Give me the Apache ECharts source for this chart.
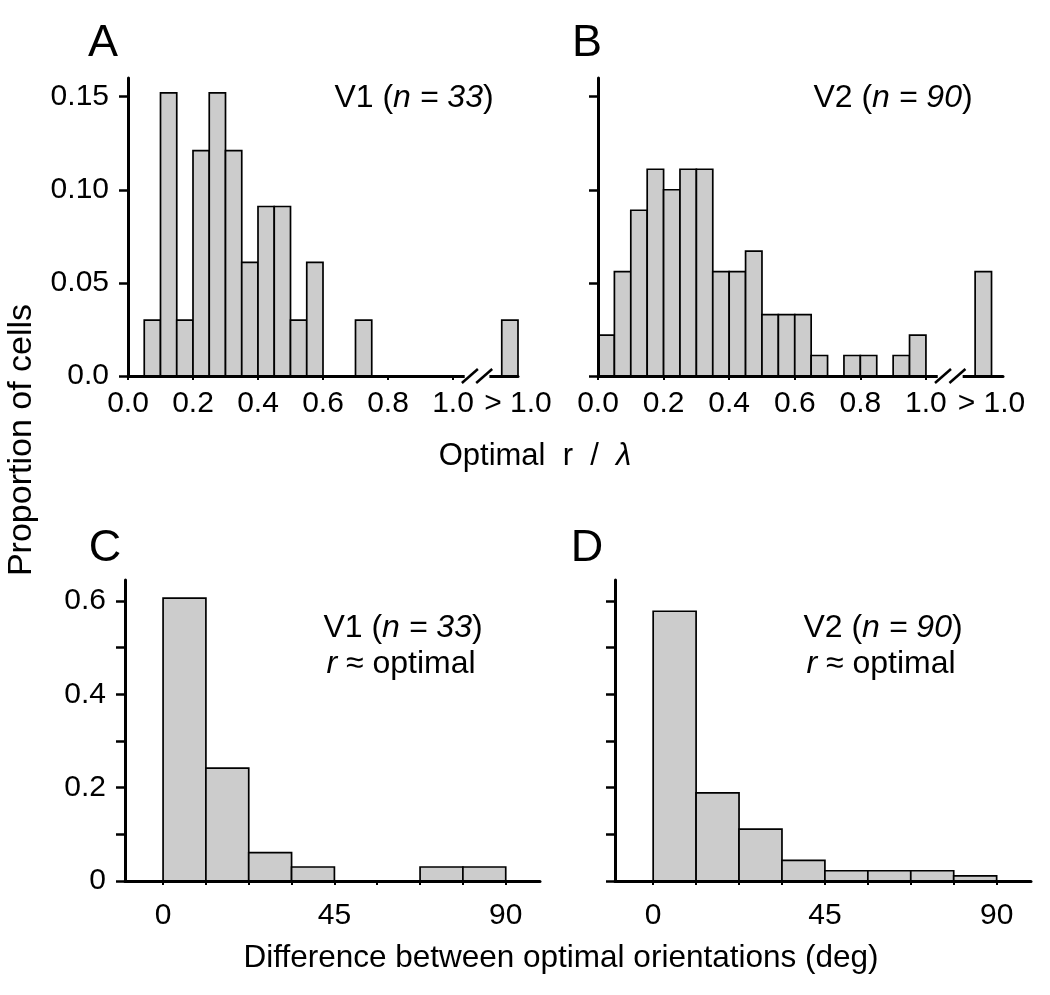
<!DOCTYPE html>
<html>
<head>
<meta charset="utf-8">
<script src="https://cdn.jsdelivr.net/npm/echarts@6/dist/echarts.min.js"></script>
<style>
html,body{margin:0;padding:0;background:#fff;}
#chart{width:1050px;height:995px;}
</style>
</head>
<body>
<div id="chart"></div>
<script>
// ---------- DATA ----------
// Panels A & B: bins of optimal r / lambda (bin start, width 0.05)
const ratioBinStarts = [0.00,0.05,0.10,0.15,0.20,0.25,0.30,0.35,0.40,0.45,0.50,0.55,0.60,0.65,0.70,0.75,0.80,0.85,0.90,0.95];
const ratioBinWidth = 0.05;
const v1RatioProps = [0,0.030,0.152,0.030,0.121,0.152,0.121,0.061,0.091,0.091,0.030,0.061,0,0,0.030,0,0,0,0,0];
const v2RatioProps = [0.022,0.056,0.089,0.111,0.100,0.111,0.111,0.056,0.056,0.067,0.033,0.033,0.033,0.011,0,0.011,0.011,0,0.011,0.022];
const overBinRange = [1.15, 1.20];      // where the "> 1.0" bar sits on the axis
const v1OverProp = 0.030;
const v2OverProp = 0.056;
const ratioTickValues = [0,0.2,0.4,0.6,0.8,1.0];
const ratioLabelValues = [0,0.2,0.4,0.6,0.8,1.0,1.2];
const propTicksAB = [0,0.05,0.10,0.15];

// Panels C & D: difference between optimal orientations (deg), bins of 11.25
const oriBinStarts = [0,11.25,22.5,33.75,45,56.25,67.5,78.75];
const oriBinWidth = 11.25;
const v1OriProps = [0.606,0.242,0.061,0.030,0,0,0.030,0.030];
const v2OriProps = [0.578,0.189,0.111,0.044,0.022,0.022,0.022,0.011];
const oriTickValues = [0,11.25,22.5,33.75,45,56.25,67.5,78.75,90];
const oriLabelValues = [0,45,90];
const propTicksCD = [0,0.1,0.2,0.3,0.4,0.5,0.6];
const propLabelsCD = [0,0.2,0.4,0.6];

// axis break decoration (in data units)
const breakGap = [1.036, 1.112];
const breakSlashes = [1.052, 1.096];

// ---------- BUILD ----------
const FONT = '"Liberation Sans", Arial, Helvetica, sans-serif';
const FS = 30;      // tick labels
const FA = 32;      // annotations

function histData(starts, width, props) {
  return starts.map((s, i) => [s, s + width, props[i]]);
}
const v1RatioData = histData(ratioBinStarts, ratioBinWidth, v1RatioProps).concat([[overBinRange[0], overBinRange[1], v1OverProp]]);
const v2RatioData = histData(ratioBinStarts, ratioBinWidth, v2RatioProps).concat([[overBinRange[0], overBinRange[1], v2OverProp]]);
const v1OriData = histData(oriBinStarts, oriBinWidth, v1OriProps);
const v2OriData = histData(oriBinStarts, oriBinWidth, v2OriProps);

function histSeries(idx, data) {
  return {
    type: 'custom', xAxisIndex: idx, yAxisIndex: idx, z: 2, clip: false,
    data: data,
    renderItem: function (params, api) {
      const x0 = api.value(0), x1 = api.value(1), v = api.value(2);
      if (!v) return null;
      const pTop = api.coord([x0, v]);
      const pBot = api.coord([x1, 0]);
      return {
        type: 'rect',
        shape: { x: pTop[0], y: pTop[1], width: pBot[0] - pTop[0], height: pBot[1] - pTop[1] },
        style: { fill: '#cccccc', stroke: '#000', lineWidth: 1.7 }
      };
    }
  };
}
function breakSeries(idx) {
  return {
    type: 'custom', xAxisIndex: idx, yAxisIndex: idx, z: 30, clip: false, silent: true,
    data: [[breakGap[0], breakGap[1], breakSlashes[0], breakSlashes[1]]],
    renderItem: function (params, api) {
      const y0 = api.coord([0, 0])[1];
      const g0 = api.coord([api.value(0), 0])[0];
      const g1 = api.coord([api.value(1), 0])[0];
      const s0 = api.coord([api.value(2), 0])[0];
      const s1 = api.coord([api.value(3), 0])[0];
      const slash = (sx) => ({ type: 'line', shape: { x1: sx - 8, y1: y0 + 7, x2: sx + 8, y2: y0 - 7 }, style: { stroke: '#000', lineWidth: 2.5 } });
      return {
        type: 'group',
        children: [
          { type: 'rect', shape: { x: g0, y: y0 - 3, width: g1 - g0, height: 6 }, style: { fill: '#fff' } },
          slash(s0), slash(s1)
        ]
      };
    }
  };
}

const axisLineStyle = { color: '#000', width: 3 };
function xAxisRatio(idx, max) {
  return {
    type: 'value', gridIndex: idx, min: 0, max: max, z: 10,
    axisLine: { show: true, onZero: false, lineStyle: axisLineStyle },
    axisTick: { show: true, customValues: ratioTickValues, length: 4, lineStyle: { color: '#000', width: 2 } },
    axisLabel: { customValues: ratioLabelValues, margin: 13, color: '#000', fontFamily: FONT, fontSize: FS,
      formatter: v => (v > 1.05 ? '> 1.0' : v.toFixed(1)) },
    splitLine: { show: false }
  };
}
function yAxisAB(idx, showLabels) {
  return {
    type: 'value', gridIndex: idx, min: 0, max: 0.16, z: 10,
    axisLine: { show: true, onZero: false, lineStyle: axisLineStyle },
    axisTick: { show: true, customValues: propTicksAB, length: 9, lineStyle: { color: '#000', width: 2.5 } },
    axisLabel: { show: showLabels, customValues: propTicksAB, margin: 19, color: '#000', fontFamily: FONT, fontSize: FS,
      formatter: v => (v === 0 ? '0.0' : v.toFixed(2)) },
    splitLine: { show: false }
  };
}
function xAxisOri(idx) {
  return {
    type: 'value', gridIndex: idx, min: -10, max: 99, z: 10,
    axisLine: { show: true, onZero: false, lineStyle: axisLineStyle },
    axisTick: { show: true, customValues: oriTickValues, length: 4, lineStyle: { color: '#000', width: 2 } },
    axisLabel: { customValues: oriLabelValues, margin: 20, color: '#000', fontFamily: FONT, fontSize: FS,
      formatter: v => String(v) },
    splitLine: { show: false }
  };
}
function yAxisCD(idx, showLabels) {
  return {
    type: 'value', gridIndex: idx, min: 0, max: 0.645, z: 10,
    axisLine: { show: true, onZero: false, lineStyle: axisLineStyle },
    axisTick: { show: true, customValues: propTicksCD, length: 9, lineStyle: { color: '#000', width: 2.5 } },
    axisLabel: { show: showLabels, customValues: propLabelsCD, margin: 19, color: '#000', fontFamily: FONT, fontSize: FS,
      formatter: v => (v === 0 ? '0' : v.toFixed(1)) },
    splitLine: { show: false }
  };
}

function txt(x, y, text, size, rich, align) {
  const t = { type: 'text', x: x, y: y, z: 50,
    style: { text: text, fill: '#000', font: size + 'px ' + FONT, align: align || 'center', verticalAlign: 'middle' } };
  if (rich) t.style.rich = rich;
  return t;
}
function rich(size) {
  return {
    a: { fontFamily: FONT, fontSize: size, color: '#000' },
    i: { fontFamily: FONT, fontSize: size, fontStyle: 'italic', color: '#000' }
  };
}

const option = {
  animation: false,
  backgroundColor: '#fff',
  grid: [
    { left: 128, top: 78, width: 390, height: 298 },
    { left: 598, top: 78, width: 405, height: 298 },
    { left: 125, top: 580, width: 415, height: 301 },
    { left: 615, top: 580, width: 416, height: 301 }
  ],
  xAxis: [xAxisRatio(0, 1.2), xAxisRatio(1, 1.235), xAxisOri(2), xAxisOri(3)],
  yAxis: [yAxisAB(0, true), yAxisAB(1, false), yAxisCD(2, true), yAxisCD(3, false)],
  series: [
    histSeries(0, v1RatioData), histSeries(1, v2RatioData),
    histSeries(2, v1OriData), histSeries(3, v2OriData),
    breakSeries(0), breakSeries(1)
  ],
  graphic: [
    txt(103, 44, 'A', 45),
    txt(587, 44, 'B', 45),
    txt(105, 549, 'C', 45),
    txt(587, 549, 'D', 45),
    txt(414, 98, '{a|V1 (}{i|n = 33}{a|)}', FA, rich(FA)),
    txt(893, 98, '{a|V2 (}{i|n = 90}{a|)}', FA, rich(FA)),
    txt(403, 628, '{a|V1 (}{i|n = 33}{a|)}', FA, rich(FA)),
    txt(401, 664, '{i|r}{a| ≈ optimal}', FA, rich(FA)),
    txt(883, 628, '{a|V2 (}{i|n = 90}{a|)}', FA, rich(FA)),
    txt(881, 664, '{i|r}{a| ≈ optimal}', FA, rich(FA)),
    txt(535, 456, '{a|Optimal  r  /  }{i|λ}', 31, rich(31)),
    txt(561, 958, 'Difference between optimal orientations (deg)', 31.5),
    { type: 'text', x: 22, y: 440, rotation: Math.PI / 2, z: 50,
      style: { text: 'Proportion of cells', fill: '#000', font: '34px ' + FONT, align: 'center', verticalAlign: 'middle' } }
  ]
};

const chart = echarts.init(document.getElementById('chart'), null, { renderer: 'canvas' });
chart.setOption(option);
</script>
</body>
</html>
